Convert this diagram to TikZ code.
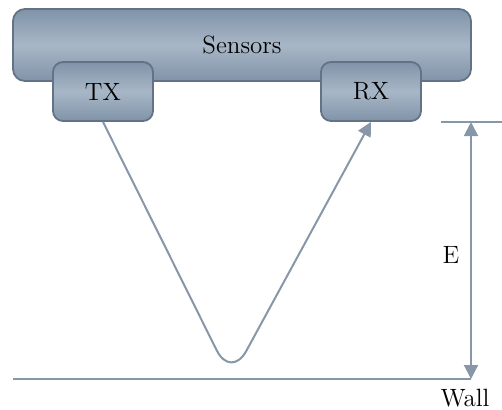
\documentclass[tikz,border=0pt]{standalone}
\usetikzlibrary{arrows.meta,positioning}
\definecolor{boxTop}{RGB}{128,147,168}
\definecolor{boxMid}{RGB}{168,183,199}
\definecolor{boxEdge}{RGB}{98,115,134}
\definecolor{lineGray}{RGB}{136,151,168}
\begin{document}
\begin{tikzpicture}[x=0.5pt, y=-0.5pt,
    box/.style={draw=boxEdge, line width=0.9pt, rounded corners=5pt,
                top color=boxTop, bottom color=boxTop, middle color=boxMid,
                inner sep=0pt, font=\fontsize{12.5}{14}\selectfont},
    arr/.style={-{Triangle[length=7pt, width=7pt]}, line width=1pt, draw=lineGray},
    ann/.style={font=\fontsize{12.5}{14}\selectfont}
  ]
  \useasboundingbox (0,0) rectangle (502,409);
  % Sensor housing
  \node[box, rounded corners=6pt, minimum width=229pt, minimum height=36pt]
    (sensors) at (242,45) {Sensors};
  \node[box, minimum width=50pt, minimum height=29.5pt] (tx) at (103,91.5) {TX};
  \node[box, minimum width=50pt, minimum height=29.5pt] (rx) at (371,91.5) {RX};
  % Wall and reference lines
  \coordinate (wallL) at (13,379);
  \coordinate (wallR) at (471,379);
  \coordinate (hit) at (231,379);
  \coordinate (refL) at (441,122);
  \coordinate (refR) at (502,122);
  \coordinate (refM) at (471,122);
  \draw[lineGray, line width=1pt] (wallL) -- (wallR);
  \draw[lineGray, line width=1pt] (refL) -- (refR);
  % Reflected ray
  \draw[arr, rounded corners=16pt] (tx.south) -- (hit) -- (rx.south);
  % Distance
  \draw[arr, {Triangle[length=7pt, width=7pt]}-{Triangle[length=7pt, width=7pt]}]
    (refM) -- (wallR);
  \node[ann] (dist) at (451,255) {E};
  \node[ann] (wall) at (465,398) {Wall};
\end{tikzpicture}
\end{document}
